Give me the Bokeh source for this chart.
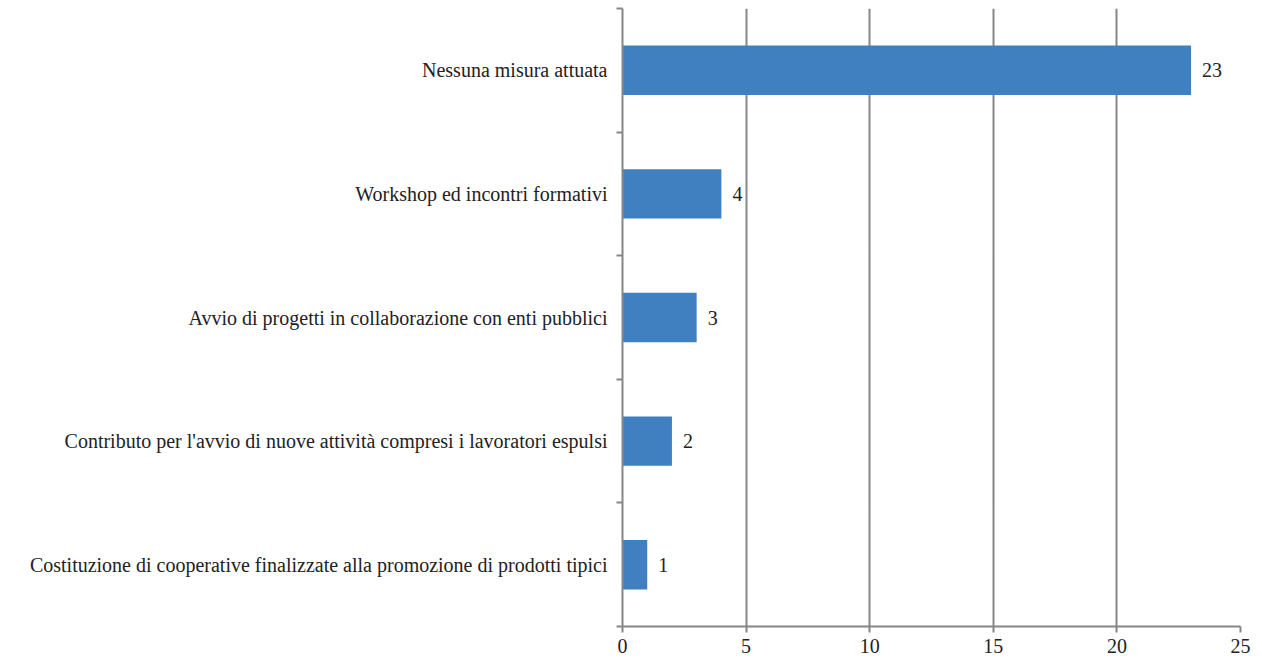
from bokeh.plotting import figure
from bokeh.models import FixedTicker, Range1d, ColumnDataSource, LabelSet
from bokeh.embed import file_html
from bokeh.resources import INLINE

categories = [
    "Costituzione di cooperative finalizzate alla promozione di prodotti tipici",
    "Contributo per l'avvio di nuove attività compresi i lavoratori espulsi",
    "Avvio di progetti in collaborazione con enti pubblici",
    "Workshop ed incontri formativi",
    "Nessuna misura attuata",
]
values = [1, 2, 3, 4, 23]
x_ticks = [0, 5, 10, 15, 20, 25]

centers = [i + 0.5 for i in range(len(categories))]
src = ColumnDataSource(dict(y=centers, v=values, lab=[str(v) for v in values]))

FONT = "Liberation Serif"
GRAY = "#868686"
TXT = "#222222"

p = figure(width=1262, height=659, output_backend="svg", toolbar_location=None,
           x_range=Range1d(0, 25), y_range=Range1d(0, len(categories)),
           min_border_left=622, min_border_right=22, min_border_top=8,
           min_border_bottom=33)
p.outline_line_color = None

p.hbar(y="y", right="v", left=0, height=0.4, source=src,
       fill_color="#4080C0", line_color="#4080C0", line_width=0)

labels = LabelSet(x="v", y="y", text="lab", source=src, x_offset=11,
                  text_baseline="middle", text_align="left",
                  text_font=FONT, text_font_size="20px", text_color=TXT)
p.add_layout(labels)

# x axis
p.xaxis.ticker = FixedTicker(ticks=x_ticks)
p.xaxis.axis_line_color = GRAY
p.xaxis.axis_line_width = 2
p.xaxis.major_tick_line_color = GRAY
p.xaxis.major_tick_line_width = 2
p.xaxis.major_tick_out = 6
p.xaxis.major_tick_in = 0
p.xaxis.minor_tick_line_color = None
p.xaxis.major_label_text_font = FONT
p.xaxis.major_label_text_font_size = "20px"
p.xaxis.major_label_text_color = TXT
p.xaxis.major_label_standoff = 6

# y axis
p.yaxis.ticker = FixedTicker(ticks=centers, minor_ticks=list(range(len(categories) + 1)))
p.yaxis.major_label_overrides = {c: lab for c, lab in zip(centers, categories)}
p.yaxis.axis_line_color = GRAY
p.yaxis.axis_line_width = 2
p.yaxis.major_tick_line_color = None
p.yaxis.minor_tick_line_color = GRAY
p.yaxis.minor_tick_line_width = 2
p.yaxis.minor_tick_out = 6
p.yaxis.minor_tick_in = 0
p.yaxis.major_label_text_font = FONT
p.yaxis.major_label_text_font_size = "20px"
p.yaxis.major_label_text_color = TXT
p.yaxis.major_label_standoff = 9

p.xgrid.ticker = FixedTicker(ticks=x_ticks[1:])
p.xgrid.grid_line_color = GRAY
p.xgrid.grid_line_width = 2
p.ygrid.grid_line_color = None

open("out.html", "w").write(file_html(p, INLINE))
